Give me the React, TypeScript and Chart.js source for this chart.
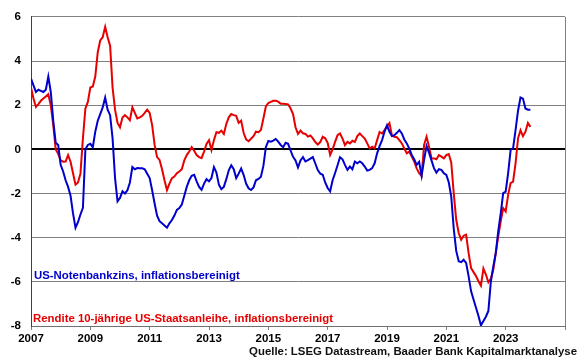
import React, { useEffect, useRef } from "react";
import { Chart, registerables } from "chart.js";

Chart.register(...registerables);

// Monthly observations starting January 2007 (ending November 2023)
const startYear = 2007;

const fedFundsReal: number[] = [
  3.2, 2.9, 2.6, 2.7, 2.65, 2.6, 2.7, 3.3, 2.6, 1.3, 0.3, 0.2,
  -0.7, -1.0, -1.4, -1.7, -2.1, -2.9, -3.55, -3.3, -2.95, -2.65, 0.0, 0.2,
  0.25, 0.1, 0.8, 1.3, 1.6, 1.9, 2.35, 1.8, 1.55, 0.5, -1.3, -2.35,
  -2.2, -1.9, -2.0, -1.85, -1.5, -0.8, -0.9, -0.85, -0.86, -0.86, -0.9, -1.1,
  -1.3, -1.85, -2.45, -3.0, -3.25, -3.35, -3.45, -3.55, -3.35, -3.2, -3.0, -2.74,
  -2.66, -2.5, -2.1, -1.7, -1.4, -1.2, -1.15, -1.45, -1.7, -1.83, -1.55, -1.35,
  -1.45, -1.3, -0.8, -1.05, -1.6, -1.8, -1.7, -1.35, -0.95, -0.72, -0.9, -1.3,
  -1.1, -0.87, -1.15, -1.55, -1.76, -1.84, -1.72, -1.4, -1.34, -1.24, -0.75, 0.1,
  0.38, 0.35, 0.4, 0.47, 0.35, 0.2, 0.1, 0.3, 0.25, -0.05, -0.34, -0.5,
  -0.82, -0.5, -0.35, -0.55, -0.49, -0.42, -0.35, -0.64, -0.94, -1.1, -1.15, -1.5,
  -1.75, -1.9, -1.4, -1.07, -0.72, -0.36, -0.45, -0.7, -0.93, -0.78, -0.9, -0.55,
  -0.63, -0.55, -0.63, -0.78, -0.96, -0.93, -0.85, -0.63, -0.18, 0.15, 0.42, 0.8,
  1.09, 0.8, 0.6, 0.64, 0.75, 0.87, 0.72, 0.45, 0.27, 0.04, -0.25, -0.45,
  -0.7, -0.56, -1.2, -0.48, 0.15, -0.15, -0.5, -0.85, -1.05, -0.9, -0.93, -1.08,
  -1.16, -1.5, -2.15, -3.6, -4.6, -5.07, -5.11, -5.0, -5.14, -5.74, -6.42, -6.8,
  -7.17, -7.55, -7.97, -7.77, -7.58, -7.32, -6.0, -5.3, -4.7, -3.7, -2.9, -1.98,
  -1.91, -1.08, -0.03, 0.05, 0.87, 1.75, 2.35, 2.3, 1.85, 1.8, 1.8,
];

const bondYieldReal: number[] = [
  2.8, 2.3, 1.92, 2.05, 2.2, 2.3, 2.4, 2.5, 2.0, 1.1, 0.0, -0.2,
  -0.5, -0.56, -0.55, -0.26, -0.56, -1.08, -1.6, -1.5, -1.1, 0.5, 1.85, 2.15,
  2.8, 2.85, 3.3, 4.4, 4.93, 5.08, 5.55, 5.08, 4.7, 2.8, 1.8, 1.2,
  1.0, 1.44, 1.55, 1.45, 1.32, 1.9, 1.65, 1.4, 1.45, 1.52, 1.65, 1.8,
  1.65, 1.1, 0.2, -0.35, -0.48, -0.9, -1.4, -1.85, -1.55, -1.3, -1.23, -1.08,
  -1.0, -0.9, -0.5, -0.26, -0.1, 0.1, -0.06, -0.26, -0.35, -0.4, -0.1, 0.25,
  0.42, -0.03, 0.42, 0.78, 0.75, 0.85, 0.7, 1.15, 1.45, 1.6, 1.55, 1.52,
  1.2, 1.3, 0.75, 0.45, 0.37, 0.48, 0.6, 0.8, 0.78, 0.88, 1.4, 1.95,
  2.1, 2.15, 2.2, 2.2, 2.16, 2.07, 2.07, 2.06, 2.04, 1.85, 1.6, 1.0,
  0.7, 0.85, 0.73, 0.7, 0.58, 0.63, 0.5, 0.33, 0.22, 0.33, 0.57, 0.5,
  0.3, -0.25, 0.0, 0.34, 0.64, 0.72, 0.49, 0.19, 0.34, 0.27, 0.39, 0.34,
  0.6, 0.72, 0.6, 0.49, 0.27, 0.04, 0.12, 0.04, 0.42, 0.79, 0.72, 0.87,
  1.04, 1.19, 0.62, 0.57, 0.55, 0.42, 0.27, 0.04, -0.18, -0.1, -0.33, -0.55,
  -0.86, -1.08, -1.2, 0.2, 0.57, 0.12, -0.4, -0.41, -0.45, -0.26, -0.33, -0.41,
  -0.26, -0.21, -0.6, -2.0, -3.19, -3.79, -4.09, -3.91, -3.86, -4.69, -5.37, -5.56,
  -5.74, -5.97, -6.17, -5.4, -5.67, -6.02, -5.86, -5.44, -4.69, -3.94, -3.26, -2.66,
  -2.81, -2.06, -1.53, -1.46, -0.63, 0.5, 0.87, 0.6, 0.8, 1.2, 1.02,
];

const xMin = 2007;
const xMax = 2025;
const yTicksMin = -8;
const yTicksMax = 6;

const seriesNames = [
  "US-Notenbankzins, inflationsbereinigt",
  "Rendite 10-jährige US-Staatsanleihe, inflationsbereinigt",
];
const sourceText = "Quelle: LSEG Datastream, Baader Bank Kapitalmarktanalyse";

const BLUE = "#0000CC";
const RED = "#E60000";
const FONT = "'Liberation Sans', Arial, sans-serif";

const toPoints = (vals: number[]) =>
  vals.map((v, i) => ({ x: startYear + i / 12, y: v }));

const textPlugin = {
  id: "textPlugin",
  afterDraw(chart: any) {
    const { ctx, chartArea } = chart;
    ctx.save();
    ctx.font = `bold 11.4px ${FONT}`;
    ctx.textBaseline = "middle";
    ctx.textAlign = "left";
    ctx.fillStyle = BLUE;
    ctx.fillText(seriesNames[0], chartArea.left + 3, chartArea.top + 259);
    ctx.fillStyle = RED;
    ctx.fillText(seriesNames[1], chartArea.left + 2, chartArea.top + 302);
    ctx.fillStyle = "#111111";
    ctx.textAlign = "right";
    ctx.fillText(sourceText, chart.width - 3, chart.height - 7);
    ctx.restore();
  },
};

export default function App() {
  const canvasRef = useRef<HTMLCanvasElement | null>(null);

  useEffect(() => {
    if (!canvasRef.current) return;
    const chart = new Chart(canvasRef.current, {
      type: "line",
      data: {
        datasets: [
          {
            label: seriesNames[0],
            data: toPoints(fedFundsReal),
            borderColor: BLUE,
            borderWidth: 2,
            pointRadius: 0,
            tension: 0,
          },
          {
            label: seriesNames[1],
            data: toPoints(bondYieldReal),
            borderColor: RED,
            borderWidth: 2,
            pointRadius: 0,
            tension: 0,
          },
        ],
      },
      options: {
        animation: false,
        responsive: false,
        maintainAspectRatio: false,
        events: [],
        layout: { padding: { top: 15, right: 15, left: 0, bottom: 0 } },
        plugins: {
          legend: { display: false },
          tooltip: { enabled: false },
        },
        scales: {
          x: {
            type: "linear",
            min: xMin,
            max: xMax,
            afterFit: (scale: any) => {
              scale.height = 33;
            },
            ticks: {
              stepSize: 2,
              autoSkip: false,
              maxRotation: 0,
              padding: 2,
              color: "#000000",
              font: { family: FONT, size: 11.5, weight: "bold" },
              callback: (v: any) => (Number(v) === xMax ? "" : String(v)),
            },
            grid: {
              drawOnChartArea: true,
              tickLength: 4,
              color: (ctx: any) =>
                ctx.tick && ctx.tick.value === xMax ? "#808080" : "rgba(0,0,0,0)",
              tickColor: "#808080",
              lineWidth: 1,
            },
            border: { display: true, color: "#707070", width: 1 },
          },
          y: {
            min: yTicksMin,
            max: yTicksMax,
            afterFit: (scale: any) => {
              scale.width = 31;
            },
            ticks: {
              stepSize: 2,
              padding: 10,
              color: "#000000",
              font: { family: FONT, size: 11.5, weight: "bold" },
              callback: (v: any) => String(v),
            },
            grid: {
              drawTicks: false,
              color: (ctx: any) =>
                ctx.tick && ctx.tick.value === 0 ? "#000000" : "#808080",
              lineWidth: (ctx: any) => (ctx.tick && ctx.tick.value === 0 ? 2 : 1),
            },
            border: { display: true, color: "#404040", width: 1 },
          },
        },
      },
      plugins: [textPlugin],
    });
    return () => chart.destroy();
  }, []);

  return (
    <div
      style={{
        position: "fixed",
        left: 0,
        top: 0,
        width: 580,
        height: 359,
        background: "#ffffff",
      }}
    >
      <canvas ref={canvasRef} width={580} height={359} style={{ width: 580, height: 359 }} />
    </div>
  );
}
